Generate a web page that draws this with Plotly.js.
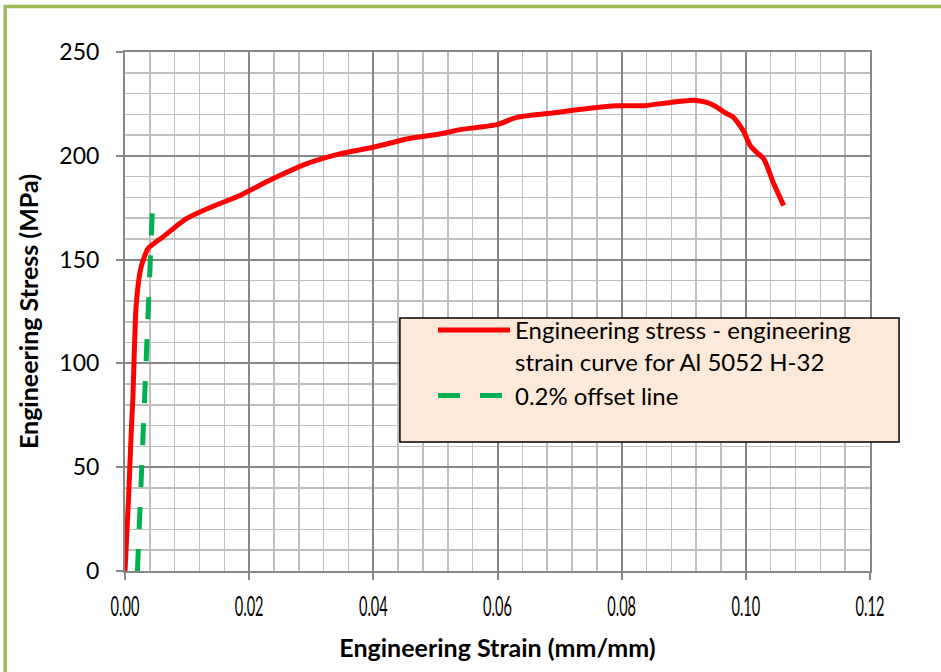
<!DOCTYPE html>
<html>
<head>
<meta charset="utf-8">
<script src="https://cdn.plot.ly/plotly-3.0.1.min.js"></script>
<style>
  html, body { margin: 0; padding: 0; background: #ffffff; }
  #chart { width: 941px; height: 672px; }
</style>
</head>
<body>
<div id="chart"></div>
<script>
// Engineering stress-strain curve (Al 5052 H-32)
const strainValues = [0, 0.00056, 0.0010, 0.00126, 0.0018, 0.0026, 0.0037, 0.0050, 0.0061, 0.0080, 0.0099, 0.0125, 0.0152, 0.0185, 0.0201, 0.0238, 0.0292, 0.0346, 0.0400, 0.0454, 0.0507, 0.0540, 0.0599, 0.0631, 0.0695, 0.0749, 0.0792, 0.0835, 0.0878, 0.0916, 0.0937, 0.0950, 0.0968, 0.0980, 0.0996, 0.1007, 0.1018, 0.1029, 0.1045, 0.1061];
const stressValues = [0, 34.5, 66.6, 82.5, 128, 146.5, 155.3, 158.5, 160.9, 165.5, 169.7, 173.5, 176.9, 180.9, 183.3, 188.9, 196.1, 200.9, 204.1, 208.1, 210.5, 212.6, 215.0, 218.5, 220.9, 222.9, 224.1, 224.1, 225.7, 226.8, 225.7, 224.0, 220.5, 218.5, 212.0, 204.9, 201.5, 198.5, 186.5, 176.0];

// 0.2% offset line
const offsetStrain = [0.0020, 0.0044];
const offsetStress = [0, 173];

// Tick labels
const xTickVals = [0, 0.02, 0.04, 0.06, 0.08, 0.10, 0.12];
const xTickText = ["0.00", "0.02", "0.04", "0.06", "0.08", "0.10", "0.12"];
const yTickVals = [0, 50, 100, 150, 200, 250];
const yTickText = ["0", "50", "100", "150", "200", "250"];

const seriesNames = ["Engineering stress - engineering<br>strain curve for Al 5052 H-32", "0.2% offset line"];

const traces = [
  {
    x: strainValues, y: stressValues, type: 'scatter', mode: 'lines',
    name: seriesNames[0],
    line: { color: '#FF0000', width: 5, shape: 'spline', smoothing: 0.6 }
  },
  {
    x: offsetStrain, y: offsetStress, type: 'scatter', mode: 'lines',
    name: seriesNames[1],
    line: { color: '#00B050', width: 5, dash: '22px,20px' }
  }
];

const majorGrid = '#878787';
const minorGrid = '#BFBFBF';
const fontFam = 'Lato, "Open Sans", sans-serif';

const layout = {
  width: 941, height: 672,
  margin: { l: 125, r: 71, t: 52, b: 101 },
  paper_bgcolor: '#ffffff', plot_bgcolor: '#ffffff',
  showlegend: true,
  legend: {
    x: 0.4134, xanchor: 'left', y: 0.5067, yanchor: 'top',
    bgcolor: 'rgba(0,0,0,0)', borderwidth: 0, valign: 'top',
    font: { family: fontFam, size: 24, color: '#000000' },
    itemwidth: 72, tracegroupgap: 0
  },
  xaxis: {
    range: [0, 0.12], tickvals: xTickVals, ticktext: xTickText,
    showgrid: true, gridcolor: majorGrid, gridwidth: 2,
    minor: { dtick: 0.004, showgrid: true, gridcolor: minorGrid, gridwidth: 1.5 },
    showline: true, linecolor: majorGrid, linewidth: 2, mirror: true,
    ticks: 'outside', ticklen: 7, tickcolor: majorGrid, tickwidth: 2,
    zeroline: false,
    tickfont: { family: fontFam, size: 26, color: '#000000' },
    ticklabelstandoff: 5,
    title: { text: 'Engineering Strain (mm/mm)', standoff: 18,
      font: { family: fontFam, size: 25, color: '#000000', weight: 'bold' } }
  },
  yaxis: {
    range: [0, 250], tickvals: yTickVals, ticktext: yTickText,
    showgrid: true, gridcolor: majorGrid, gridwidth: 2,
    minor: { dtick: 10, showgrid: true, gridcolor: minorGrid, gridwidth: 1.5 },
    showline: true, linecolor: majorGrid, linewidth: 2, mirror: true,
    ticks: 'outside', ticklen: 7, tickcolor: majorGrid, tickwidth: 2,
    zeroline: false,
    tickfont: { family: fontFam, size: 23, color: '#000000' },
    ticklabelstandoff: 12,
    title: { text: 'Engineering Stress (MPa)', standoff: 14,
      font: { family: fontFam, size: 25, color: '#000000', weight: 'bold' } }
  },
  shapes: [
    // legend box
    { type: 'rect', xref: 'paper', yref: 'paper', layer: 'above',
      x0: 0.369, x1: 1.039, y0: 0.2486, y1: 0.4875,
      fillcolor: '#FDE9D9', line: { color: '#000000', width: 1.5 } },
    // outer green frame
    { type: 'rect', xref: 'paper', yref: 'paper', layer: 'above',
      x0: -0.1608, x1: 1.3, y0: -0.4, y1: 1.0876,
      fillcolor: 'rgba(0,0,0,0)', line: { color: '#9BBB59', width: 3.5 } }
  ]
};

Plotly.newPlot('chart', traces, layout, { displayModeBar: false, staticPlot: true }).then(function (gd) {
  // the reference's x tick labels are horizontally condensed
  gd.querySelectorAll('.xaxislayer-above .xtick text').forEach(function (t) {
    const tr = t.getAttribute('transform') || '';
    t.setAttribute('transform', tr + ' scale(0.56,1)');
  });
});
</script>
</body>
</html>
